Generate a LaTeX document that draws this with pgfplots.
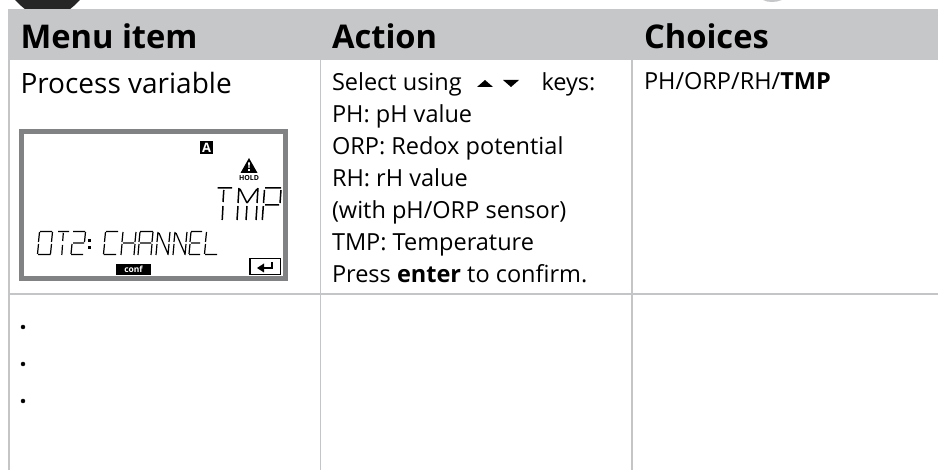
\documentclass[border=0pt]{standalone}
\usepackage{pgfplots}
\pgfplotsset{compat=1.18}
\usepackage{fontspec}
\setmainfont{Open Sans}
\definecolor{hdr}{HTML}{C6C7C9}
\definecolor{rule}{HTML}{C4C5C7}
\definecolor{lcd}{HTML}{808284}
\tikzset{txt/.style={anchor=base west, inner sep=0pt, outer sep=0pt, text=black},
 hh/.style={txt, font=\fontsize{32.8}{32.8}\selectfont\bfseries},
 bb/.style={txt, font=\fontsize{23.6}{23.6}\selectfont}}
\begin{document}
\begin{tikzpicture}
\begin{axis}[
  at={(0,0)}, anchor=south west,
  width=938bp, height=470bp, scale only axis,
  xmin=0, xmax=938, ymin=0, ymax=470, y dir=reverse,
  hide axis, clip=true, unbounded coords=jump,
  every axis plot/.append style={line cap=butt, line join=miter},
]
% page background
\addplot[draw=none, fill=white, forget plot] coordinates {(0,0)(938,0)(938,470)(0,470)} -- cycle;
% top circles
\addplot[draw=none, fill=black!85, forget plot] coordinates {(15,0)(20,5)(26,10)(33,14)(40,16.5)(47.5,17)(55,16.5)(62,14)(69,10)(75,5)(80,0)} -- cycle;
\addplot[draw=none, fill=hdr, forget plot] coordinates {(763,0)(767,1.5)(772,2)(777,1.5)(782,0)} -- cycle;
% header
\addplot[draw=none, fill=hdr, forget plot] coordinates {(8,9)(938,9)(938,60)(8,60)} -- cycle;
% grid rules
\addplot[draw=rule, line width=1.6bp, forget plot] coordinates {(8.8,60)(8.8,470)};
\addplot[draw=rule, line width=1.6bp, forget plot] coordinates {(320.5,60)(320.5,470)};
\addplot[draw=rule, line width=1.6bp, forget plot] coordinates {(631.8,60)(631.8,470)};
\addplot[draw=rule, line width=1.6bp, forget plot] coordinates {(8,293.8)(938,293.8)};
% LCD frame
\addplot[draw=lcd, line width=5bp, forget plot] coordinates {(21.8,132)(285.2,132)(285.2,278.2)(21.8,278.2)} -- cycle;
% A box, conf box
\addplot[draw=none, fill=black, forget plot] coordinates {(200,141)(213,141)(213,154)(200,154)} -- cycle;
\addplot[draw=none, fill=black, forget plot] coordinates {(116,264)(151,264)(151,275)(116,275)} -- cycle;
% warning triangle
\addplot[draw=none, fill=black, forget plot] coordinates {(249,158)(257.5,173)(240.5,173)} -- cycle;
\addplot[draw=none, fill=white, forget plot] coordinates {(248.1,162.5)(249.9,162.5)(249.5,168)(248.5,168)} -- cycle;
\addplot[draw=none, fill=white, forget plot] coordinates {(248.2,169)(249.8,169)(249.8,170.8)(248.2,170.8)} -- cycle;
% enter key
\addplot[draw=black, line width=1.2bp, forget plot] coordinates {(250,258.6)(280.6,258.6)(280.6,274.6)(250,274.6)} -- cycle;
\addplot[draw=black, line width=1.8bp, forget plot] coordinates {(272,262.5)(272,268)(262,268)};
\addplot[draw=none, fill=black, forget plot] coordinates {(257,268)(264,263.5)(264,272.5)} -- cycle;
% key arrows
\addplot[draw=none, fill=black, forget plot] coordinates {(477,87)(485,80)(493,87)} -- cycle;
\addplot[draw=none, fill=black, forget plot] coordinates {(503,80)(519,80)(511,87)} -- cycle;
% LCD segments TMP
\addplot[draw=black, line width=1.5bp, forget plot] coordinates {
 (217.5,188)(232,188) (nan,nan) (223.8,190)(223,202) (nan,nan) (223,206)(222.2,220) (nan,nan)
 (239,188)(238,203) (nan,nan) (238,206)(237,220) (nan,nan) (240,189)(247,203) (nan,nan) (257,189)(247,203) (nan,nan) (247,206)(246,220) (nan,nan) (258,188)(257,203) (nan,nan) (257,206)(256,220) (nan,nan)
 (265,188)(281,188) (nan,nan) (264.5,190)(263.5,203) (nan,nan) (263.3,206)(262.3,220) (nan,nan) (281,190)(280,203) (nan,nan) (265,205)(279,205)
};
% LCD segments OT2: CHANNEL
\addplot[draw=black, line width=1.2bp, forget plot] coordinates {
 (40,231.5)(52,231.5) (nan,nan) (38,254.5)(50.5,254.5) (nan,nan) (39.5,232)(38.5,242) (nan,nan) (38.5,244)(37.5,254) (nan,nan) (52.5,232)(51.5,242) (nan,nan) (51.5,244)(50.5,254) (nan,nan)
 (58,231.5)(69,231.5) (nan,nan) (63.3,233)(62.7,241) (nan,nan) (62.5,245)(61.8,255) (nan,nan)
 (73,231.5)(85,231.5) (nan,nan) (85.5,232)(84.5,242) (nan,nan) (73,243)(84,243) (nan,nan) (72,244)(71,254) (nan,nan) (71,254.5)(83,254.5) (nan,nan)
 (106,231.5)(118,231.5) (nan,nan) (105.5,232)(104.5,242) (nan,nan) (104.5,244)(103.5,254) (nan,nan) (103.5,254.5)(116,254.5) (nan,nan)
 (123,232)(122,242) (nan,nan) (122,244)(121,255) (nan,nan) (136,232)(135,242) (nan,nan) (135,244)(134,255) (nan,nan) (123,243)(134,243) (nan,nan)
 (140,231.5)(153,231.5) (nan,nan) (140,232)(139,242) (nan,nan) (139,244)(138,255) (nan,nan) (153,232)(152,242) (nan,nan) (152,244)(151,255) (nan,nan) (140,243)(151,243) (nan,nan)
 (158,232)(157,242) (nan,nan) (157,244)(156,255) (nan,nan) (170,232)(169,242) (nan,nan) (169,244)(168,255) (nan,nan) (159,233)(168,254) (nan,nan)
 (175,232)(174,242) (nan,nan) (174,244)(173,255) (nan,nan) (187,232)(186,242) (nan,nan) (186,244)(185,255) (nan,nan) (176,233)(185,254) (nan,nan)
 (191,231.5)(202,231.5) (nan,nan) (191,232)(190,242) (nan,nan) (190,244)(189,254) (nan,nan) (191,243)(200,243) (nan,nan) (189,254.5)(200,254.5) (nan,nan)
 (206.5,232)(205.5,242) (nan,nan) (205.5,244)(204.5,254) (nan,nan) (205,254.5)(217,254.5)
};
\addplot[only marks, mark=square*, mark size=0.9bp, black, forget plot] coordinates {(89,240)(89,247)};
% dots
\addplot[only marks, mark=*, mark size=2bp, black, forget plot] coordinates {(23,327)(23,364)(23,401)};
% texts
\node[hh] at (axis cs:20.5,49) {Menu item};
\node[hh] at (axis cs:332,49) {Action};
\node[hh] at (axis cs:644,49) {Choices};
\node[txt, font=\fontsize{28.1}{28.1}\selectfont] at (axis cs:20.5,93.3) {Process variable};
\node[bb] at (axis cs:332,90.7) {Select using};
\node[bb] at (axis cs:541.5,90.7) {keys:};
\node[bb] at (axis cs:332,122.7) {PH: pH value};
\node[bb] at (axis cs:332,154.7) {ORP: Redox potential};
\node[bb] at (axis cs:332,186.7) {RH: rH value};
\node[bb] at (axis cs:332,218.7) {(with pH/ORP sensor)};
\node[bb] at (axis cs:332,250.7) {TMP: Temperature};
\node[bb] at (axis cs:332,282.7) {Press \textbf{enter} to confirm.};
\node[bb] at (axis cs:644,90) {PH/ORP/RH/\textbf{TMP}};
\node[anchor=center, inner sep=0pt, font=\fontsize{13}{13}\selectfont\bfseries, text=white] at (axis cs:206.5,147.5) {A};
\node[anchor=center, inner sep=0pt, font=\fontsize{7}{7}\selectfont\bfseries] at (axis cs:249,178) {HOLD};
\node[anchor=center, inner sep=0pt, font=\fontsize{8.5}{8.5}\selectfont\bfseries, text=white] at (axis cs:133.5,269.5) {conf};
\end{axis}
\end{tikzpicture}
\end{document}
